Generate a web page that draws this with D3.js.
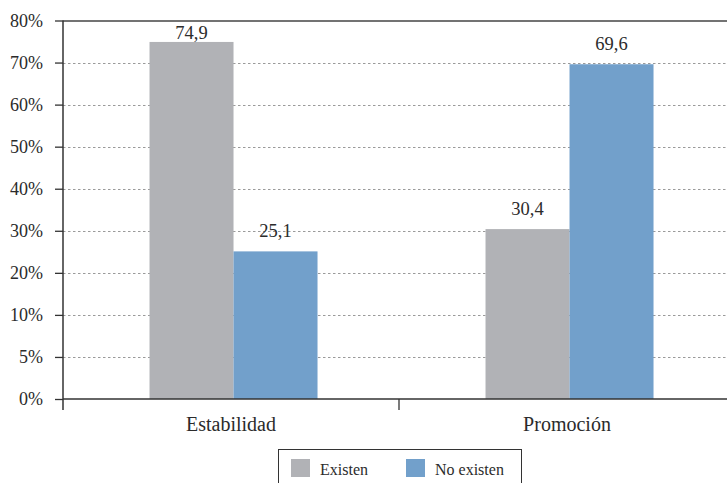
<!DOCTYPE html>
<html><head><meta charset="utf-8">
<script src="https://cdn.jsdelivr.net/npm/d3@7"></script>
<style>
html,body{margin:0;padding:0;background:#fff;}
svg text{font-family:"Liberation Serif","Times New Roman","DejaVu Serif",serif !important;fill:#2b2b2b;}
</style></head>
<body>
<svg id="chart" width="727" height="483"></svg>
<script>
const categories = ["Estabilidad", "Promoción"];
const seriesNames = ["Existen", "No existen"];
const existen = [74.9, 30.4];
const noExisten = [25.1, 69.6];
const valueLabels = [["74,9", "25,1"], ["30,4", "69,6"]];
const tickValues = [0, 5, 10, 20, 30, 40, 50, 60, 70, 80];
const tickLabels = ["0%", "5%", "10%", "20%", "30%", "40%", "50%", "60%", "70%", "80%"];
const colors = ["#b1b2b6", "#72a0cb"];

const svg = d3.select("#chart");
const mLeft = 63, mRight = 735, mTop = 20.5, mBottom = 399;

// piecewise y scale: the labelled ticks are evenly spaced
const y = d3.scaleLinear()
  .domain(tickValues)
  .range(tickValues.map((d, i) => mBottom - i * (mBottom - mTop) / (tickValues.length - 1)));

const x0 = d3.scaleBand().domain(categories).range([mLeft, mRight]).paddingInner(0).paddingOuter(0);
const x1 = d3.scaleBand().domain(seriesNames).range([0, x0.bandwidth()]).paddingInner(0).paddingOuter(1).align(0.515);

// gridlines
svg.append("g").selectAll("line")
  .data(tickValues.slice(1, -1))
  .join("line")
  .attr("x1", mLeft).attr("x2", 727)
  .attr("y1", d => Math.round(y(d)) + 0.5).attr("y2", d => Math.round(y(d)) + 0.5)
  .attr("stroke", "#9a9a9a").attr("stroke-width", 1).attr("stroke-dasharray", "2.5,2.5");

// bars
const data = categories.map((c, i) => ({cat: c, vals: [existen[i], noExisten[i]], labels: valueLabels[i]}));
const groups = svg.append("g").selectAll("g").data(data).join("g")
  .attr("transform", d => `translate(${x0(d.cat)},0)`);
groups.selectAll("rect")
  .data(d => d.vals.map((v, j) => ({name: seriesNames[j], v, j})))
  .join("rect")
  .attr("x", d => x1(d.name))
  .attr("width", x1.bandwidth())
  .attr("y", d => y(d.v))
  .attr("height", d => mBottom - y(d.v))
  .attr("fill", d => colors[d.j]);
groups.selectAll("text.val")
  .data(d => d.vals.map((v, j) => ({name: seriesNames[j], v, lab: d.labels[j]})))
  .join("text")
  .attr("class", "val")
  .attr("x", d => x1(d.name) + x1.bandwidth() / 2)
  .attr("y", d => Math.max(y(d.v) - 14, mTop + 18.5))
  .attr("text-anchor", "middle")
  .attr("font-size", 18.5)
  .text(d => d.lab);

// top border
svg.append("line").attr("x1", mLeft).attr("x2", 727).attr("y1", mTop + 0.5).attr("y2", mTop + 0.5)
  .attr("stroke", "#444").attr("stroke-width", 1.3);

// y axis
const yAxis = d3.axisLeft(y).tickValues(tickValues).tickSize(8).tickPadding(12)
  .tickFormat((d, i) => tickLabels[i]);
const gy = svg.append("g").attr("transform", `translate(${mLeft},0)`).call(yAxis)
  .attr("font-family", null).attr("font-size", null);
gy.select(".domain").remove();
gy.selectAll(".tick line").attr("stroke", "#333").attr("stroke-width", 1.3);
gy.selectAll(".tick text").attr("font-size", 18).attr("fill", "#2b2b2b");
svg.append("line").attr("x1", mLeft).attr("x2", mLeft).attr("y1", mTop).attr("y2", 410)
  .attr("stroke", "#333").attr("stroke-width", 1.5);

// x axis
svg.append("line").attr("x1", mLeft).attr("x2", 727).attr("y1", mBottom).attr("y2", mBottom)
  .attr("stroke", "#333").attr("stroke-width", 1.5);
const xAxis = d3.axisBottom(x0).tickSize(0).tickPadding(0);
const gx = svg.append("g").attr("transform", `translate(0,${mBottom})`).call(xAxis)
  .attr("font-family", null).attr("font-size", null);
gx.select(".domain").remove();
gx.selectAll(".tick text").attr("font-size", 20).attr("fill", "#2b2b2b")
  .attr("dy", null).attr("y", 32);
// category separators
svg.append("g").selectAll("line").data(categories.slice(1)).join("line")
  .attr("x1", d => x0(d)).attr("x2", d => x0(d)).attr("y1", mBottom).attr("y2", 410)
  .attr("stroke", "#333").attr("stroke-width", 1.3);

// legend
const lg = svg.append("g");
lg.append("rect").attr("x", 278.5).attr("y", 449.5).attr("width", 243).attr("height", 40)
  .attr("fill", "none").attr("stroke", "#333").attr("stroke-width", 1);
const legX = [291, 406];
seriesNames.forEach((n, i) => {
  lg.append("rect").attr("x", legX[i]).attr("y", 459).attr("width", 19).attr("height", 18).attr("fill", colors[i]);
  lg.append("text").attr("x", legX[i] + 29).attr("y", 475).attr("font-size", 16).text(n);
});
</script>
</body></html>
